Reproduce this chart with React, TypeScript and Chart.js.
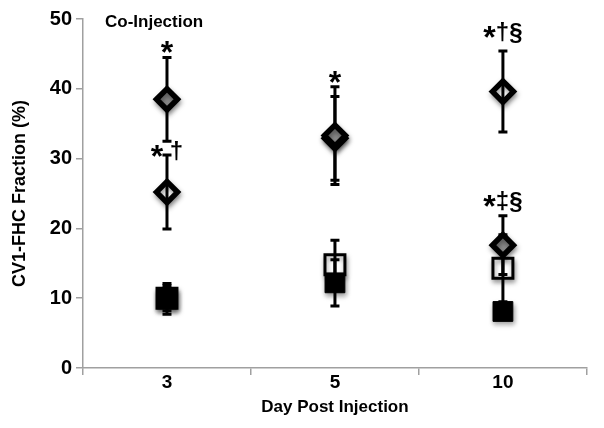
import React, { useEffect, useRef } from 'react';
import { Chart, registerables } from 'chart.js';

Chart.register(...registerables);

const days = ['3', '5', '10'];

const grayDiamond = [38.5, 33.3, 17.6];
const grayDiamondErr = [6.0, 7.0, 4.2];
const whiteDiamond = [25.2, 32.9, 39.6];
const whiteDiamondErr = [5.3, 6.0, 5.8];
const openSquare = [10.0, 14.8, 14.3];
const openSquareErr = [1.8, 3.5, 4.8];
const filledSquare = [9.9, 12.2, 8.1];
const filledSquareErr = [2.2, 3.3, 1.0];

const yMin = 0;
const yMax = 50;
const yStep = 10;

const annotationDays = ['3', '3', '5', '10', '10'];
const annotationValues = [44.9, 29.9, 40.6, 47.0, 22.8];
const annotationTexts = ['*', '* †', '*', '*†§', '*‡§'];

const panelLabel = 'Co-Injection';
const xTitle = 'Day Post Injection';
const yTitle = 'CV1-FHC Fraction (%)';

const FONT = '"Liberation Sans", Arial, Helvetica, sans-serif';
const AXIS_GRAY = '#a0a0a0';

function drawErrors(chart: any, index: number) {
  const ds = chart.data.datasets[index];
  const errs: number[] = ds.errors;
  const xs = chart.scales.x;
  const ys = chart.scales.y;
  const ctx = chart.ctx;
  ctx.save();
  ctx.strokeStyle = '#000';
  ctx.lineWidth = 3;
  ctx.lineCap = 'butt';
  ds.data.forEach((v: number, i: number) => {
    const px = xs.getPixelForValue(i);
    const top = ys.getPixelForValue(v + errs[i]);
    const bot = ys.getPixelForValue(v - errs[i]);
    ctx.beginPath();
    ctx.moveTo(px, top);
    ctx.lineTo(px, bot);
    ctx.stroke();
    ctx.beginPath();
    ctx.moveTo(px - 4.5, top);
    ctx.lineTo(px + 4.5, top);
    ctx.moveTo(px - 4.5, bot);
    ctx.lineTo(px + 4.5, bot);
    ctx.stroke();
  });
  ctx.restore();
}

const errorBarPlugin = {
  id: 'errorBars',
  beforeDatasetDraw(chart: any, args: any) {
    const ds = chart.data.datasets[args.index];
    if (ds.errorsFirst) drawErrors(chart, args.index);
    const ctx = chart.ctx;
    ctx.shadowColor = 'rgba(0,0,0,0.4)';
    ctx.shadowBlur = 5;
    ctx.shadowOffsetX = 1;
    ctx.shadowOffsetY = 3;
  },
  afterDatasetDraw(chart: any, args: any) {
    const ctx = chart.ctx;
    ctx.shadowColor = 'rgba(0,0,0,0)';
    ctx.shadowBlur = 0;
    ctx.shadowOffsetX = 0;
    ctx.shadowOffsetY = 0;
    const ds = chart.data.datasets[args.index];
    if (!ds.errorsFirst) drawErrors(chart, args.index);
  },
};

const textPlugin = {
  id: 'annotTexts',
  afterDraw(chart: any) {
    const ctx = chart.ctx;
    const xs = chart.scales.x;
    const ys = chart.scales.y;
    ctx.save();
    ctx.fillStyle = '#000';
    ctx.textBaseline = 'alphabetic';
    ctx.textAlign = 'left';
    const fontFor = (c: string) => (c === '*' ? `bold 32px ${FONT}` : `bold 24px ${FONT}`);
    annotationTexts.forEach((text, k) => {
      const cx = xs.getPixelForValue(days.indexOf(annotationDays[k]));
      const base = ys.getPixelForValue(annotationValues[k]);
      const chars = Array.from(text);
      let total = 0;
      const widths = chars.map((c) => {
        ctx.font = fontFor(c);
        const w = ctx.measureText(c).width;
        total += w;
        return w;
      });
      let xx = cx - total / 2;
      chars.forEach((c, j) => {
        ctx.font = fontFor(c);
        ctx.fillText(c, xx, base + (c === '*' ? 8 : 0));
        xx += widths[j];
      });
    });
    ctx.font = `bold 17px ${FONT}`;
    ctx.fillText(panelLabel, chart.chartArea.left + 22, chart.chartArea.top + 8);
    ctx.restore();
  },
};

export default function App() {
  const ref = useRef<HTMLCanvasElement | null>(null);

  useEffect(() => {
    if (!ref.current) return;
    const chart = new Chart(ref.current, {
      type: 'line',
      data: {
        labels: days,
        datasets: [
          {
            label: 'open square',
            data: openSquare,
            errors: openSquareErr,
            errorsFirst: false,
            order: 4,
            showLine: false,
            pointStyle: 'rect',
            pointRadius: 14.1,
            pointBorderWidth: 3,
            pointBackgroundColor: '#ffffff',
            pointBorderColor: '#000000',
          } as any,
          {
            label: 'white diamond',
            data: whiteDiamond,
            errors: whiteDiamondErr,
            errorsFirst: false,
            order: 3,
            showLine: false,
            pointStyle: 'rectRot',
            pointRadius: 10.5,
            pointBorderWidth: 5.5,
            pointBackgroundColor: '#ffffff',
            pointBorderColor: '#000000',
          } as any,
          {
            label: 'filled square',
            data: filledSquare,
            errors: filledSquareErr,
            errorsFirst: true,
            order: 2,
            showLine: false,
            pointStyle: 'rect',
            pointRadius: 14,
            pointBorderWidth: 1,
            pointBackgroundColor: '#000000',
            pointBorderColor: '#000000',
          } as any,
          {
            label: 'gray diamond',
            data: grayDiamond,
            errors: grayDiamondErr,
            errorsFirst: true,
            order: 1,
            showLine: false,
            pointStyle: 'rectRot',
            pointRadius: 10.5,
            pointBorderWidth: 5.5,
            pointBackgroundColor: '#8c8c8c',
            pointBorderColor: '#000000',
          } as any,
        ],
      },
      options: {
        animation: false,
        responsive: false,
        events: [],
        clip: false as any,
        layout: { padding: { top: 19, right: 15, left: 0, bottom: 0 } },
        plugins: { legend: { display: false }, tooltip: { enabled: false } },
        scales: {
          x: {
            type: 'category',
            offset: true,
            grid: {
              display: true,
              drawOnChartArea: false,
              drawTicks: true,
              tickLength: 7,
              color: AXIS_GRAY,
              lineWidth: 1.5,
              offset: true,
            },
            border: { display: true, color: AXIS_GRAY, width: 1.5 },
            ticks: { color: '#000', font: { family: FONT, size: 19, weight: 'bold' }, padding: -4 },
            title: {
              display: true,
              text: xTitle,
              color: '#000',
              font: { family: FONT, size: 17, weight: 'bold' },
              padding: { top: 0, bottom: 10 },
            },
            afterFit: (s: any) => {
              s.height = 60;
            },
          },
          y: {
            min: yMin,
            max: yMax,
            grid: {
              display: true,
              drawOnChartArea: false,
              drawTicks: true,
              tickLength: 7,
              color: AXIS_GRAY,
              lineWidth: 1.5,
            },
            border: { display: true, color: AXIS_GRAY, width: 1.5 },
            ticks: {
              stepSize: yStep,
              color: '#000',
              font: { family: FONT, size: 20, weight: 'bold' },
              padding: 4,
            },
            title: {
              display: true,
              text: yTitle,
              color: '#000',
              font: { family: FONT, size: 18, weight: 'bold' },
              padding: { top: 9, bottom: 0 },
            },
            afterFit: (s: any) => {
              s.width = 83;
            },
          },
        },
      } as any,
      plugins: [errorBarPlugin, textPlugin],
    });
    return () => chart.destroy();
  }, []);

  return (
    <div style={{ position: 'absolute', left: 0, top: 0, width: 604, height: 428, background: '#fff' }}>
      <canvas ref={ref} width={604} height={428} />
    </div>
  );
}
